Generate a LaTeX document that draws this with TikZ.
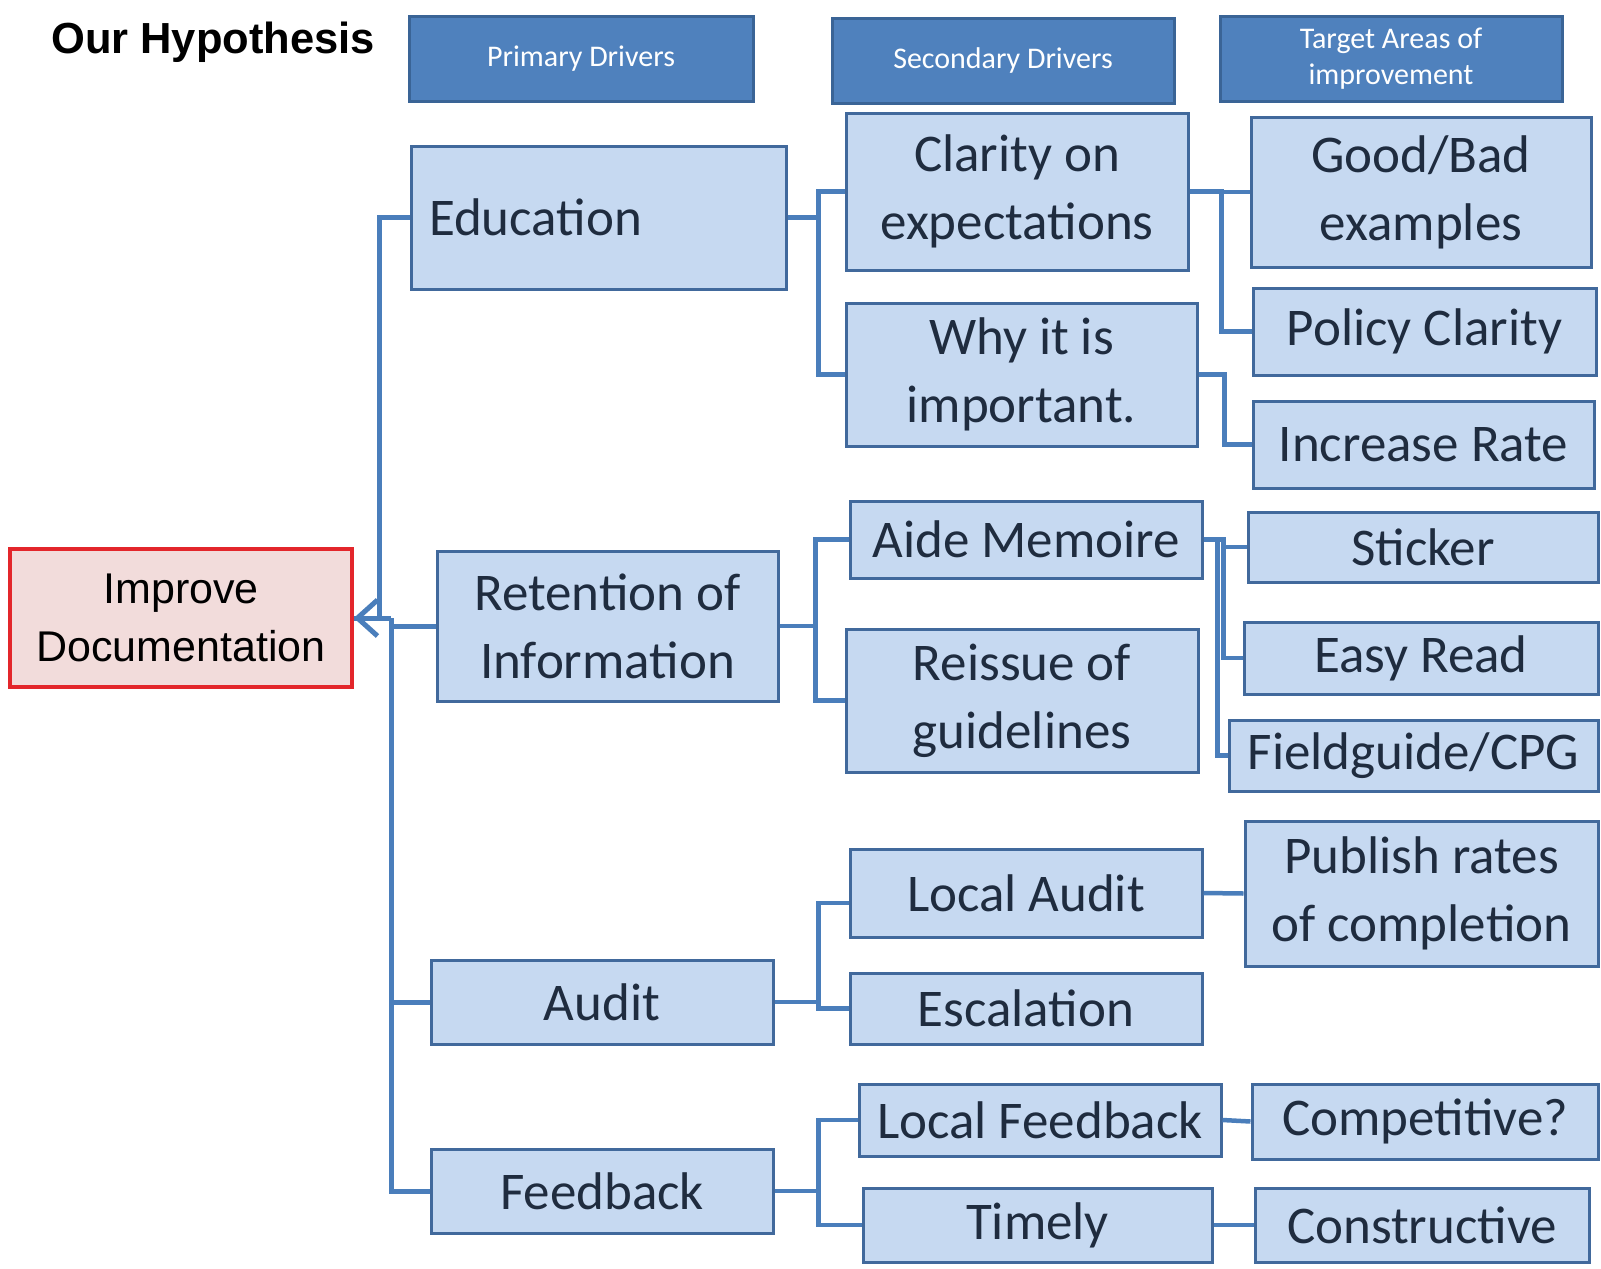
\documentclass[tikz,border=0pt]{standalone}
\usepackage{fontspec}
\setmainfont{Carlito}
\newfontfamily\arialfont{Liberation Sans}
\usepackage{tikz}
\usetikzlibrary{arrows.meta, calc}

\definecolor{boxfill}{HTML}{C6D9F1}
\definecolor{boxdraw}{HTML}{41699C}
\definecolor{linkblue}{HTML}{4A7EBB}
\definecolor{headfill}{HTML}{4F81BD}
\definecolor{headdraw}{HTML}{3A6496}
\definecolor{textnavy}{HTML}{1F2C3F}
\definecolor{goalfill}{HTML}{F2DCDB}
\definecolor{goaldraw}{HTML}{E3262B}

\tikzstyle{line} = [draw, linkblue, line width=4.5pt]
\tikzstyle{box} = [rectangle, draw=boxdraw, fill=boxfill, line width=3pt, align=center, text=textnavy, inner sep=0pt, font=\fontsize{53}{68}\selectfont]
\tikzstyle{head} = [rectangle, draw=headdraw, fill=headfill, line width=3pt, align=center, text=white, inner sep=0pt, font=\fontsize{30}{36}\selectfont]
\tikzstyle{goal} = [rectangle, draw=goaldraw, fill=goalfill, line width=3.5pt, align=center, inner sep=0pt, font=\arialfont\fontsize{43}{58}\selectfont]
\tikzset{dims/.style 2 args={minimum width=#1pt, minimum height=#2pt}}

\begin{document}
\begin{tikzpicture}[x=1pt, y=-1pt]
	\useasboundingbox (0,0) rectangle (1601,1269);

	\node [anchor=west, inner sep=0pt, font=\arialfont\bfseries\fontsize{43.5}{50}\selectfont] (title) at (51,42) {Our Hypothesis};

	% column headings
	\node [head, dims={344}{85}] (hd1) at (581,58.5) {Primary Drivers};
	\node [head, dims={342}{85}] (hd2) at (1003,60.5) {Secondary Drivers};
	\node [head, dims={342}{85}] (hd3) at (1391,58.5) {Target Areas of\\improvement};

	\node [goal, dims={342}{138}] (imp) at (181,618) {Improve\\Documentation};

	% primary drivers
	\node [box, dims={375}{143}, inner xsep=18pt, text width=339pt, align=left] (edu) at (598.5,217.5) {Education};
	\node [box, dims={341}{150}] (ret) at (607.5,626) {Retention of\\Information};
	\node [box, dims={342}{84}] (aud) at (602,1002) {Audit};
	\node [box, dims={342}{84}] (fb) at (602,1191) {Feedback};

	% secondary drivers
	\node [box, dims={342}{157}] (cla) at (1017,191.5) {Clarity on\\expectations};
	\node [box, dims={351}{143}] (why) at (1021.5,374.5) {Why it is\\important.};
	\node [box, dims={352}{77}] (aide) at (1026,539.5) {Aide Memoire};
	\node [box, dims={352}{143}] (reis) at (1022,700.5) {Reissue of\\guidelines};
	\node [box, dims={352}{88}] (la) at (1026,893) {Local Audit};
	\node [box, dims={352}{71}] (esc) at (1026,1008.5) {Escalation};
	\node [box, dims={362}{72}] (lf) at (1040,1120) {Local Feedback};
	\node [box, dims={349}{74}] (tim) at (1037.5,1225) {Timely};

	% target areas
	\node [box, dims={340}{150}] (gb) at (1421,192) {Good/Bad\\examples};
	\node [box, dims={343}{87}] (pol) at (1424.5,331.5) {Policy Clarity};
	\node [box, dims={341}{87}] (inc) at (1423.5,444.5) {Increase Rate};
	\node [box, dims={350}{70}] (stk) at (1423,547) {Sticker};
	\node [box, dims={354}{72}] (easy) at (1421,658) {Easy Read};
	\node [box, dims={369}{71}] (fg) at (1413.5,755.5) {Fieldguide/CPG};
	\node [box, dims={353}{145}] (pub) at (1421.5,893.5) {Publish rates\\of completion};
	\node [box, dims={346}{75}] (comp) at (1425,1121.5) {Competitive?};
	\node [box, dims={334}{74}] (cons) at (1422,1225) {Constructive};

	\coordinate (jn) at (391,618);

	\path [line, line width=5pt] (edu.west) -- ++(-30,0) |- (imp.east);
	\path [line, line width=5pt] (fb.west) -| (jn);
	\path [line, line width=5pt] (ret.west) -- (ret.west -| jn);
	\path [line, line width=5pt] (aud.west) -- (aud.west -| jn);
	\path [line, line width=5pt, -{Straight Barb[length=20pt, width=36pt]}] (jn) -- (imp.east);

	\path [line] (edu.east) -- ++(31,0) |- (cla.west);
	\path [line] (edu.east) -- ++(31,0) |- (why.west);
	\path [line] (ret.east) -- ++(36,0) |- (aide.west);
	\path [line] (ret.east) -- ++(36,0) |- (reis.west);
	\path [line] (aud.east) -- ++(44,0) |- ([yshift=-10pt]la.west);
	\path [line] (aud.east) -- ++(44,0) |- (esc.west);
	\path [line] (fb.east) -- ++(44,0) |- (lf.west);
	\path [line] (fb.east) -- ++(44,0) |- (tim.west);

	\path [line] (cla.east) -- ++(32,0) |- (gb.west);
	\path [line] (cla.east) -- ++(32,0) |- (pol.west);
	\path [line] (why.east) -- ++(26,0) |- (inc.west);
	\path [line] (aide.east) -- ++(20,0) |- (stk.west);
	\path [line] (aide.east) -- ++(20,0) |- (easy.west);
	\path [line] (aide.east) -- ++(14,0) |- (fg.west);
	\path [line] (la.east) -- (pub.west);
	\path [line] (lf.east) -- (comp.west);
	\path [line] (tim.east) -- (cons.west);
\end{tikzpicture}
\end{document}
